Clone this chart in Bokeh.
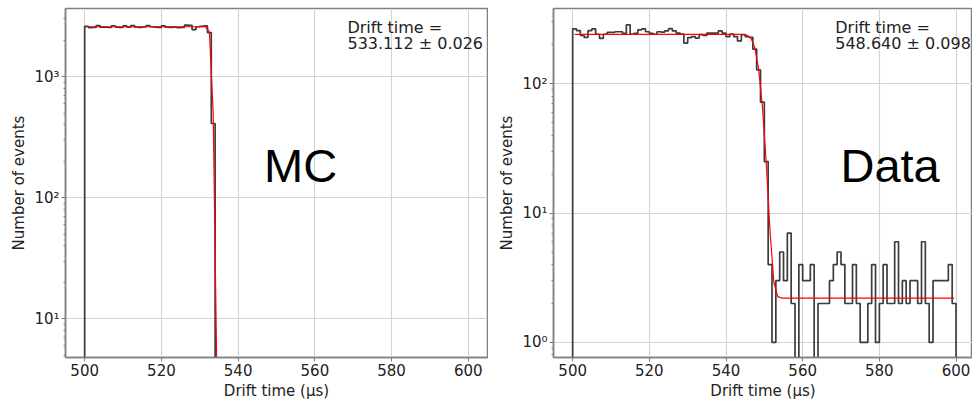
import numpy as np
from math import erfc, sqrt
from bokeh.plotting import figure
from bokeh.layouts import row
from bokeh.models import Range1d, FixedTicker, Label
from bokeh.embed import file_html
from bokeh.resources import INLINE

# Histogram binning (1 us bins from 500 to 600 us)
bin_lo, bin_hi, bin_width = 500, 600, 1
x_ticks = [500, 520, 540, 560, 580, 600]
y_tick_labels = {1: "10\u2070", 10: "10\u00b9", 100: "10\u00b2", 1000: "10\u00b3"}

# Simulated drift-time histogram (bins 500..599)
mc_counts = [
    2600, 2540, 2550, 2640, 2560, 2560, 2550, 2630, 2560, 2550,
    2620, 2560, 2640, 2560, 2550, 2570, 2640, 2580, 2560, 2550,
    2630, 2560, 2550, 2560, 2540, 2550, 2660, 2650, 2440, 2580,
    2600, 2620, 2310, 410, 0, 0, 0, 0, 0, 0,
] + [0] * 60

# Measured drift-time histogram (bins 500..599)
data_counts = [
    265, 257, 236, 228, 257, 265, 241, 224, 241, 249,
    249, 252, 252, 245, 285, 241, 245, 260, 265, 252,
    245, 241, 252, 250, 256, 266, 256, 246, 242, 206,
    227, 231, 225, 239, 236, 246, 246, 246, 256, 246,
    231, 242, 231, 214, 239, 231, 228, 185, 128, 72,
    25, 4, 1, 3, 5, 3, 7, 2, 0, 4,
    3, 3, 4, 0, 2, 2, 2, 3, 4, 5,
    4, 2, 2, 4, 2, 1, 1, 2, 4, 1,
    2, 4, 2, 2, 6, 2, 3, 2, 3, 3,
    2, 6, 2, 1, 3, 3, 3, 3, 4, 2,
]

# Error-function edge fits: amplitude, drift time, width, flat background
mc_fit = dict(amplitude=2580.0, t0=533.112, err=0.026, sigma=0.45, background=0.0)
data_fit = dict(amplitude=238.0, t0=548.640, err=0.098, sigma=1.4, background=2.2)

LOG_FLOOR = 1e-3  # empty bins are drawn below the visible range on the log axis


def step_outline(counts):
    edges = np.arange(bin_lo, bin_hi + bin_width, bin_width, dtype=float)
    c = np.where(np.asarray(counts, float) > 0, counts, LOG_FLOOR)
    xs = [edges[0]]
    ys = [LOG_FLOOR]
    for i, v in enumerate(c):
        xs += [edges[i], edges[i + 1]]
        ys += [v, v]
    xs.append(edges[-1])
    ys.append(LOG_FLOOR)
    return xs, ys


def fit_curve(fit):
    centers = np.arange(bin_lo, bin_hi, bin_width) + bin_width / 2
    vals = [fit["amplitude"] * 0.5 * erfc((t - fit["t0"]) / (sqrt(2) * fit["sigma"])) + fit["background"]
            for t in centers]
    vals = [v if v > LOG_FLOOR else LOG_FLOOR for v in vals]
    return centers, vals


def frac_y(lo, hi, f):
    return 10 ** (np.log10(lo) + f * (np.log10(hi) - np.log10(lo)))


def panel(counts, fit, y_lo, y_hi, major, x_hi, width, tag):
    p = figure(width=width, height=402, y_axis_type="log",
               x_range=Range1d(495, x_hi), y_range=Range1d(y_lo, y_hi),
               output_backend="svg", toolbar_location=None,
               min_border_left=65, min_border_right=width - 65 - int(round((x_hi - 495) * 3.835)),
               min_border_top=8, min_border_bottom=45)
    p.background_fill_color = "white"
    p.border_fill_color = "white"
    p.outline_line_color = "#808080"
    p.outline_line_width = 1.5

    minor = [m * d for d in [0.1, 1, 10, 100, 1000] for m in range(2, 10)]
    p.yaxis.ticker = FixedTicker(ticks=major, minor_ticks=minor)
    p.yaxis.major_label_overrides = {k: y_tick_labels[k] for k in major}
    p.xaxis.ticker = FixedTicker(ticks=x_ticks)

    for ax in (p.xaxis, p.yaxis):
        ax.axis_line_color = "#808080"
        ax.axis_line_width = 1.5
        ax.major_tick_line_color = "#808080"
        ax.major_tick_in = 0
        ax.major_tick_out = 4
        ax.major_label_text_font = "DejaVu Sans"
        ax.major_label_text_font_size = "15px"
        ax.major_label_text_color = "#222222"
        ax.axis_label_text_font = "DejaVu Sans"
        ax.axis_label_text_font_size = "15px"
        ax.axis_label_text_font_style = "normal"
        ax.axis_label_text_color = "#222222"
        ax.major_label_standoff = 2
        ax.axis_label_standoff = 3
    p.xaxis.minor_tick_line_color = None
    p.yaxis.minor_tick_line_color = "#808080"
    p.yaxis.minor_tick_in = 0
    p.yaxis.minor_tick_out = 2
    p.xaxis.axis_label = "Drift time (\u03bcs)"
    p.yaxis.axis_label = "Number of events"

    p.xgrid.grid_line_color = "#d4d4d4"
    p.ygrid.grid_line_color = "#d4d4d4"
    p.xgrid.grid_line_width = 1.2
    p.ygrid.grid_line_width = 1.2

    hx, hy = step_outline(counts)
    p.line(hx, hy, line_color="#3c3c3c", line_width=1.7)
    fx, fy = fit_curve(fit)
    p.line(fx, fy, line_color="#ff0000", line_width=1.2)

    text_x = 568.5
    p.add_layout(Label(x=text_x, y=frac_y(y_lo, y_hi, 0.946), text="Drift time =",
                       text_font="DejaVu Sans", text_font_size="16px", text_color="#222222",
                       text_baseline="alphabetic"))
    p.add_layout(Label(x=text_x, y=frac_y(y_lo, y_hi, 0.899),
                       text=f"{fit['t0']:.3f} \u00b1 {fit['err']:.3f}",
                       text_font="DejaVu Sans", text_font_size="16px", text_color="#222222",
                       text_baseline="alphabetic"))
    tag_x = 556.3 if tag == "MC" else 582.8
    p.add_layout(Label(x=tag_x, y=frac_y(y_lo, y_hi, 0.55), text=tag,
                       text_font="Liberation Sans", text_font_size="47px", text_color="#000000",
                       text_align="center", text_baseline="alphabetic"))
    return p


p_mc = panel(mc_counts, mc_fit, 4.79, 3650, [10, 100, 1000], 605.0, 488, "MC")
p_data = panel(data_counts, data_fit, 0.765, 381, [1, 10, 100], 604.3, 484, "Data")

layout = row(p_mc, p_data)
open("out.html", "w").write(file_html(layout, INLINE))
